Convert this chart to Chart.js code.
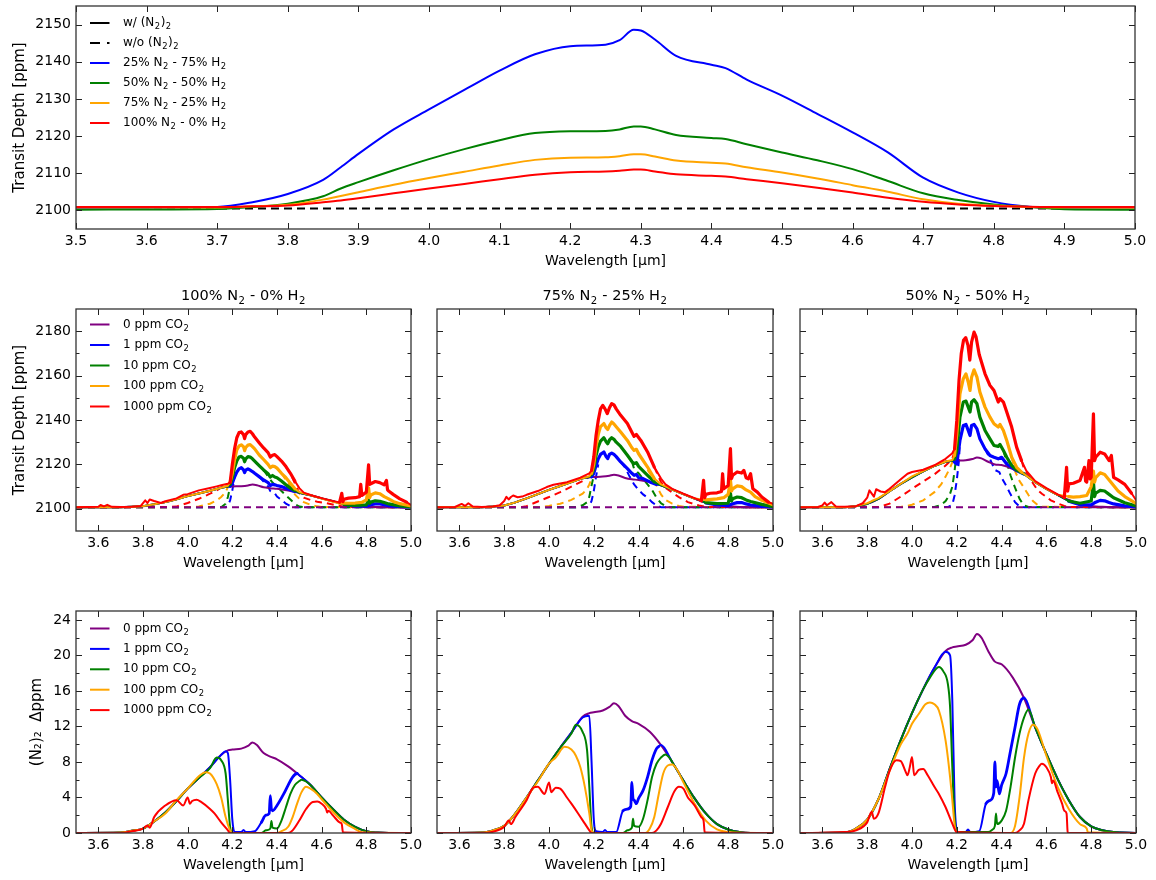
<!DOCTYPE html>
<html><head><meta charset="utf-8">
<script src="https://cdn.jsdelivr.net/npm/chart.js@4.4.0/dist/chart.umd.min.js"></script>
<style>
html,body{margin:0;padding:0;background:#fff;}
#wrap{position:relative;width:1156px;height:880px;overflow:hidden;background:#fff;}
canvas{position:absolute;}
</style></head><body><div id="wrap"></div>
<script>
// ---------------- DATA ----------------
const TOP_X_TICKS = [3.5,3.6,3.7,3.8,3.9,4.0,4.1,4.2,4.3,4.4,4.5,4.6,4.7,4.8,4.9,5.0];
const TOP_Y_TICKS = [2100,2110,2120,2130,2140,2150];
const SUB_X_TICKS = [3.6,3.8,4.0,4.2,4.4,4.6,4.8,5.0];
const MID_Y_TICKS = [2100,2120,2140,2160,2180];
const MID_Y_MINOR = [2110,2130,2150,2170];
const BOT_Y_TICKS = [0,4,8,12,16,20,24];
const BOT_Y_MINOR = [2,6,10,14,18,22];

const TOP_LEGEND = ['w/ (N_2)_2','w/o (N_2)_2','25% N_2 - 75% H_2','50% N_2 - 50% H_2','75% N_2 - 25% H_2','100% N_2 - 0% H_2'];
const CO2_LEGEND = ['0 ppm CO_2','1 ppm CO_2','10 ppm CO_2','100 ppm CO_2','1000 ppm CO_2'];
const PANEL_TITLES = ['100% N_2 - 0% H_2','75% N_2 - 25% H_2','50% N_2 - 50% H_2'];

// top panel
const TOP_WL = [3.50,3.70,3.75,3.80,3.85,3.875,3.90,3.95,4.00,4.05,4.10,4.15,4.20,4.25,4.27,4.29,4.30,4.32,4.35,4.40,4.42,4.45,4.50,4.55,4.60,4.65,4.70,4.75,4.80,4.85,4.90,5.00];
const TOP_25N2 = [2100.6,2100.9,2102.2,2104.4,2108.2,2111.6,2115.2,2121.8,2127.2,2132.4,2137.6,2142.0,2144.2,2144.6,2145.8,2148.6,2148.4,2146.0,2141.6,2139.2,2138.3,2135.2,2130.9,2126.0,2121.0,2115.6,2108.8,2104.8,2102.3,2101.0,2100.6,2100.5];
const TOP_50N2 = [2100.2,2100.4,2100.9,2101.8,2103.8,2105.9,2107.6,2110.8,2113.8,2116.5,2118.9,2120.8,2121.3,2121.4,2121.8,2122.6,2122.6,2121.8,2120.3,2119.5,2119.2,2117.8,2115.6,2113.5,2111.1,2107.9,2104.6,2102.8,2101.6,2100.9,2100.3,2100.2];
const TOP_75N2 = [2100.8,2100.8,2101.1,2101.5,2102.9,2103.9,2104.9,2106.9,2108.7,2110.4,2112.1,2113.6,2114.2,2114.3,2114.6,2115.1,2115.1,2114.5,2113.4,2112.8,2112.6,2111.6,2110.2,2108.6,2106.8,2105.0,2103.0,2101.8,2101.3,2100.9,2100.8,2100.7];
const TOP_100N2 = [2100.9,2100.9,2101.1,2101.3,2102.2,2102.7,2103.3,2104.6,2105.9,2107.1,2108.4,2109.6,2110.3,2110.5,2110.7,2111.0,2111.0,2110.5,2109.7,2109.3,2109.1,2108.4,2107.3,2106.1,2104.8,2103.4,2102.3,2101.6,2101.2,2101.0,2100.9,2100.9];
const TOP_NO_N2 = [[3.50,2100.5],[5.00,2100.5]];

// middle panels: transit depth [ppm], solid = with (N2)2, dashed = without
const MID_BASE = [[3.50,2100.7],[5.00,2100.7]];

const MID_A_PURPLE = [[3.50,2100.7],[3.70,2100.75],[3.75,2100.95],[3.80,2101.2],[3.85,2102.0],[3.90,2103.0],[3.95,2104.3],[4.00,2105.7],[4.05,2106.9],[4.10,2108.1],[4.15,2109.5],[4.18,2110.0],[4.20,2110.1],[4.24,2110.2],[4.27,2110.5],[4.29,2110.9],[4.31,2110.6],[4.34,2109.7],[4.37,2109.3],[4.40,2109.0],[4.45,2108.2],[4.50,2107.2],[4.55,2106.1],[4.60,2104.7],[4.65,2103.4],[4.70,2102.2],[4.75,2101.4],[4.80,2100.9],[4.85,2100.75],[4.90,2100.7],[5.00,2100.7]];
const MID_A_BLUE = [[3.50,2100.7],[3.70,2100.75],[3.75,2100.95],[3.80,2101.2],[3.85,2102.0],[3.90,2103.0],[3.95,2104.3],[4.00,2105.7],[4.05,2106.9],[4.10,2108.1],[4.15,2109.5],[4.18,2110.0],[4.19,2110.2],[4.20,2111.5],[4.21,2114.3],[4.22,2116.5],[4.23,2118.0],[4.24,2118.5],[4.25,2117.5],[4.255,2116.3],[4.26,2117.4],[4.27,2118.0],[4.28,2117.4],[4.29,2116.8],[4.30,2116.0],[4.32,2114.5],[4.34,2113.0],[4.36,2111.8],[4.37,2110.5],[4.38,2111.0],[4.39,2110.8],[4.40,2110.5],[4.42,2110.0],[4.44,2109.3],[4.46,2108.6],[4.48,2107.8],[4.50,2107.2],[4.55,2106.1],[4.60,2104.7],[4.65,2103.4],[4.70,2102.0],[4.75,2101.3],[4.80,2101.2],[4.82,2101.8],[4.84,2102.2],[4.86,2102.2],[4.88,2101.8],[4.90,2101.4],[4.95,2101.0],[5.00,2100.8]];
const MID_A_GREEN = [[3.50,2100.7],[3.70,2100.75],[3.75,2100.95],[3.80,2101.2],[3.85,2102.0],[3.90,2103.0],[3.95,2104.3],[4.00,2105.7],[4.05,2106.9],[4.10,2108.1],[4.15,2109.5],[4.18,2110.0],[4.19,2111.0],[4.20,2114.0],[4.21,2118.5],[4.22,2121.5],[4.23,2123.3],[4.24,2123.6],[4.25,2122.8],[4.255,2121.2],[4.26,2122.5],[4.27,2123.5],[4.28,2123.3],[4.29,2122.5],[4.30,2121.5],[4.32,2119.5],[4.34,2117.5],[4.36,2115.8],[4.37,2114.3],[4.38,2115.0],[4.39,2114.3],[4.40,2114.0],[4.42,2112.5],[4.44,2110.8],[4.46,2109.3],[4.48,2108.2],[4.50,2107.2],[4.55,2106.1],[4.60,2104.7],[4.65,2103.4],[4.70,2102.0],[4.75,2101.5],[4.80,2101.8],[4.81,2104.0],[4.815,2102.5],[4.82,2103.0],[4.84,2103.6],[4.86,2103.4],[4.88,2102.8],[4.90,2102.2],[4.95,2101.3],[5.00,2100.9]];
const MID_A_ORANGE = [[3.50,2100.7],[3.70,2100.75],[3.75,2100.95],[3.80,2101.2],[3.85,2102.0],[3.90,2103.0],[3.95,2104.3],[4.00,2105.7],[4.05,2106.9],[4.10,2108.1],[4.15,2109.5],[4.18,2110.4],[4.19,2112.0],[4.20,2116.0],[4.21,2122.0],[4.22,2126.5],[4.23,2128.3],[4.24,2128.8],[4.25,2128.0],[4.255,2126.2],[4.26,2127.6],[4.27,2128.7],[4.28,2128.9],[4.29,2128.0],[4.30,2127.0],[4.32,2124.3],[4.34,2122.2],[4.36,2120.0],[4.37,2118.5],[4.38,2119.2],[4.39,2119.0],[4.40,2118.3],[4.42,2116.0],[4.44,2114.0],[4.46,2111.5],[4.48,2109.0],[4.50,2107.6],[4.55,2106.1],[4.60,2104.6],[4.65,2103.2],[4.68,2102.5],[4.70,2102.6],[4.72,2102.5],[4.75,2102.6],[4.78,2102.9],[4.80,2104.0],[4.81,2109.5],[4.815,2105.0],[4.82,2106.2],[4.84,2107.2],[4.86,2106.8],[4.88,2105.5],[4.90,2104.5],[4.92,2103.3],[4.95,2102.3],[5.00,2101.3]];
const MID_A_RED = [[3.50,2100.7],[3.60,2100.9],[3.61,2101.7],[3.625,2101.1],[3.64,2101.8],[3.66,2100.9],[3.70,2100.8],[3.75,2100.95],[3.79,2101.3],[3.81,2103.8],[3.82,2102.6],[3.83,2104.2],[3.85,2103.5],[3.88,2102.6],[3.90,2103.4],[3.95,2104.7],[3.98,2106.3],[4.00,2106.6],[4.05,2108.3],[4.10,2109.4],[4.13,2110.1],[4.15,2110.6],[4.18,2111.3],[4.19,2111.8],[4.20,2120.0],[4.21,2127.0],[4.22,2132.0],[4.23,2134.3],[4.24,2134.6],[4.25,2133.4],[4.255,2131.6],[4.26,2133.4],[4.27,2134.6],[4.28,2134.9],[4.29,2133.8],[4.30,2132.3],[4.32,2129.8],[4.34,2127.4],[4.36,2125.3],[4.37,2123.3],[4.38,2124.1],[4.39,2124.4],[4.40,2123.5],[4.42,2121.5],[4.44,2119.0],[4.46,2116.0],[4.48,2112.5],[4.50,2109.3],[4.52,2107.3],[4.55,2106.2],[4.58,2105.3],[4.60,2104.8],[4.65,2103.5],[4.68,2102.9],[4.69,2107.0],[4.695,2103.2],[4.70,2104.3],[4.72,2104.8],[4.75,2105.0],[4.77,2105.5],[4.775,2111.0],[4.78,2106.0],[4.80,2107.5],[4.81,2119.8],[4.815,2111.0],[4.82,2111.3],[4.84,2112.3],[4.86,2111.8],[4.88,2110.8],[4.89,2112.8],[4.895,2108.5],[4.90,2108.0],[4.92,2106.5],[4.95,2104.5],[4.98,2103.0],[5.00,2101.8]];
const MID_A_BLUE_D = [[3.50,2100.7],[4.17,2100.7],[4.18,2101.5],[4.19,2103.8],[4.20,2108.3],[4.21,2114.3],[4.215,null],[4.32,2114.5],[4.34,2112.3],[4.36,2110.0],[4.37,2108.0],[4.38,2107.3],[4.39,2107.0],[4.40,2105.5],[4.42,2104.0],[4.44,2102.3],[4.46,2101.2],[4.48,2100.7],[5.00,2100.7]];
const MID_A_GREEN_D = [[3.50,2100.7],[4.15,2100.7],[4.17,2102.3],[4.18,2105.3],[4.19,2109.8],[4.20,null],[4.34,2117.5],[4.36,2114.5],[4.38,2111.8],[4.40,2110.0],[4.42,2108.0],[4.44,2106.0],[4.46,2104.2],[4.48,2102.2],[4.50,2101.0],[4.52,2100.7],[5.00,2100.7]];
const MID_A_ORANGE_D = [[3.50,2100.7],[4.00,2100.7],[4.05,2101.0],[4.10,2102.3],[4.13,2103.8],[4.15,2105.3],[4.17,2107.5],[4.18,2109.8],[4.19,2112.0],[4.20,null],[4.42,2116.0],[4.44,2113.0],[4.46,2110.0],[4.48,2106.5],[4.50,2104.5],[4.52,2103.0],[4.55,2101.8],[4.58,2101.1],[4.60,2100.8],[5.00,2100.7]];
const MID_A_RED_D = [[3.50,2100.7],[3.90,2100.8],[3.95,2101.0],[4.00,2102.6],[4.05,2104.5],[4.10,2106.8],[4.13,2108.3],[4.15,2109.5],[4.17,2110.5],[4.19,2111.8],[4.20,null],[4.44,2119.0],[4.46,2116.0],[4.48,2111.5],[4.50,2107.0],[4.52,2105.0],[4.55,2104.0],[4.58,2103.2],[4.62,2102.6],[4.66,2101.7],[4.70,2100.9],[5.00,2100.7]];

const MID_B_PURPLE = [[3.50,2100.7],[3.70,2100.75],[3.75,2101.0],[3.80,2101.5],[3.85,2102.9],[3.90,2104.7],[3.95,2106.6],[4.00,2108.5],[4.05,2110.3],[4.10,2112.0],[4.15,2113.8],[4.18,2114.2],[4.20,2114.3],[4.24,2114.5],[4.27,2114.9],[4.29,2115.3],[4.31,2115.0],[4.34,2113.9],[4.37,2113.3],[4.40,2113.0],[4.45,2112.1],[4.50,2110.6],[4.55,2108.7],[4.60,2106.6],[4.65,2104.6],[4.70,2102.9],[4.75,2101.7],[4.80,2101.1],[4.85,2100.8],[4.90,2100.7],[5.00,2100.7]];
const MID_B_BLUE = [[3.50,2100.7],[3.70,2100.75],[3.75,2101.0],[3.80,2101.5],[3.85,2102.9],[3.90,2104.7],[3.95,2106.6],[4.00,2108.5],[4.05,2110.3],[4.10,2112.0],[4.15,2113.8],[4.18,2114.2],[4.19,2114.4],[4.20,2116.0],[4.21,2119.5],[4.22,2122.5],[4.23,2124.5],[4.245,2125.6],[4.255,2123.5],[4.262,2122.6],[4.27,2124.5],[4.28,2125.1],[4.29,2124.5],[4.30,2123.5],[4.32,2121.1],[4.35,2118.1],[4.37,2116.0],[4.38,2115.1],[4.39,2115.5],[4.40,2114.0],[4.42,2113.6],[4.45,2112.1],[4.48,2111.0],[4.50,2110.6],[4.55,2108.7],[4.60,2106.6],[4.65,2104.6],[4.70,2102.7],[4.75,2101.8],[4.80,2101.5],[4.82,2102.3],[4.84,2102.8],[4.86,2102.8],[4.88,2102.2],[4.90,2101.7],[4.95,2101.1],[5.00,2100.8]];
const MID_B_GREEN = [[3.50,2100.7],[3.70,2100.75],[3.75,2101.0],[3.80,2101.5],[3.85,2102.9],[3.90,2104.7],[3.95,2106.6],[4.00,2108.5],[4.05,2110.3],[4.10,2112.0],[4.15,2113.8],[4.18,2114.3],[4.19,2115.5],[4.20,2118.0],[4.21,2124.0],[4.22,2128.0],[4.23,2130.5],[4.245,2132.0],[4.255,2130.2],[4.262,2129.3],[4.27,2131.0],[4.28,2132.0],[4.29,2131.3],[4.30,2130.0],[4.32,2128.1],[4.35,2124.1],[4.37,2121.3],[4.38,2120.3],[4.39,2120.8],[4.40,2119.1],[4.44,2115.1],[4.47,2112.1],[4.49,2111.0],[4.50,2110.6],[4.55,2108.7],[4.60,2106.6],[4.65,2104.6],[4.70,2102.8],[4.75,2102.3],[4.80,2102.5],[4.81,2107.0],[4.815,2103.5],[4.82,2104.5],[4.84,2105.3],[4.86,2105.0],[4.88,2104.0],[4.90,2103.3],[4.95,2102.0],[5.00,2101.0]];
const MID_B_ORANGE = [[3.50,2100.7],[3.70,2100.75],[3.75,2101.0],[3.80,2101.5],[3.85,2102.9],[3.90,2104.7],[3.95,2106.6],[4.00,2108.5],[4.05,2110.3],[4.10,2112.0],[4.15,2113.8],[4.18,2114.6],[4.19,2116.0],[4.20,2120.0],[4.21,2128.0],[4.22,2133.5],[4.23,2137.0],[4.245,2138.4],[4.255,2136.5],[4.262,2135.7],[4.27,2137.5],[4.28,2139.1],[4.29,2138.2],[4.30,2137.0],[4.32,2134.6],[4.35,2130.8],[4.37,2127.5],[4.38,2126.3],[4.39,2126.8],[4.40,2124.8],[4.44,2118.8],[4.47,2113.6],[4.50,2111.0],[4.55,2108.7],[4.60,2106.6],[4.65,2104.6],[4.70,2104.0],[4.75,2104.5],[4.78,2105.0],[4.80,2106.5],[4.81,2113.0],[4.815,2108.0],[4.82,2109.0],[4.84,2110.3],[4.86,2110.0],[4.88,2108.5],[4.90,2107.5],[4.92,2105.5],[4.95,2103.8],[5.00,2101.8]];
const MID_B_RED = [[3.50,2100.7],[3.58,2100.8],[3.61,2102.2],[3.625,2101.3],[3.64,2102.5],[3.66,2101.0],[3.70,2100.8],[3.75,2101.0],[3.78,2101.6],[3.80,2103.5],[3.81,2105.4],[3.82,2104.2],[3.83,2105.3],[3.84,2106.0],[3.86,2105.2],[3.88,2105.5],[3.90,2106.3],[3.95,2108.0],[3.99,2109.8],[4.02,2110.8],[4.08,2112.0],[4.14,2114.0],[4.18,2116.0],[4.19,2117.3],[4.20,2123.3],[4.21,2133.0],[4.22,2139.9],[4.23,2145.0],[4.24,2146.6],[4.25,2145.0],[4.26,2142.9],[4.27,2145.5],[4.28,2147.4],[4.29,2146.8],[4.30,2145.0],[4.32,2142.1],[4.35,2138.4],[4.37,2134.5],[4.38,2132.6],[4.39,2133.5],[4.41,2130.8],[4.44,2125.6],[4.47,2118.8],[4.50,2113.6],[4.52,2111.0],[4.55,2109.0],[4.60,2106.8],[4.65,2104.8],[4.68,2103.5],[4.69,2112.8],[4.695,2105.0],[4.70,2106.5],[4.72,2107.0],[4.75,2107.2],[4.77,2107.8],[4.775,2115.8],[4.78,2109.0],[4.80,2110.5],[4.81,2127.1],[4.815,2113.6],[4.82,2115.1],[4.84,2116.6],[4.86,2116.1],[4.87,2117.3],[4.88,2114.0],[4.89,2113.5],[4.90,2115.8],[4.91,2109.0],[4.93,2107.5],[4.95,2105.3],[4.98,2103.0],[5.00,2102.3]];
const MID_B_BLUE_D = [[3.50,2100.7],[4.17,2100.7],[4.18,2101.5],[4.19,2103.5],[4.20,2108.0],[4.21,2114.5],[4.22,2120.0],[4.225,null],[4.32,2121.1],[4.34,2118.5],[4.36,2114.5],[4.38,2111.0],[4.40,2108.5],[4.42,2106.5],[4.44,2105.0],[4.46,2103.0],[4.48,2101.5],[4.50,2100.7],[5.00,2100.7]];
const MID_B_GREEN_D = [[3.50,2100.7],[4.12,2100.7],[4.15,2101.6],[4.17,2103.0],[4.18,2105.5],[4.19,2110.5],[4.20,2115.0],[4.205,null],[4.37,2121.3],[4.38,2118.0],[4.40,2116.0],[4.42,2113.5],[4.44,2111.0],[4.46,2108.5],[4.48,2105.0],[4.50,2102.5],[4.52,2101.2],[4.54,2100.7],[5.00,2100.7]];
const MID_B_ORANGE_D = [[3.50,2100.7],[3.95,2100.7],[4.00,2101.3],[4.05,2102.3],[4.10,2104.0],[4.15,2106.8],[4.17,2109.0],[4.18,2111.0],[4.19,2113.5],[4.20,2118.0],[4.205,null],[4.44,2117.5],[4.46,2114.5],[4.48,2110.5],[4.50,2106.5],[4.52,2104.0],[4.55,2102.3],[4.58,2101.3],[4.60,2100.9],[5.00,2100.7]];
const MID_B_RED_D = [[3.50,2100.7],[3.88,2100.8],[3.90,2101.2],[3.95,2103.3],[4.00,2105.3],[4.05,2107.5],[4.10,2110.0],[4.15,2112.5],[4.18,2114.5],[4.19,2117.0],[4.195,null],[4.47,2118.8],[4.50,2112.0],[4.52,2109.5],[4.55,2107.3],[4.58,2105.3],[4.62,2103.0],[4.67,2101.5],[4.70,2100.8],[5.00,2100.7]];

const MID_C_PURPLE = [[3.50,2100.7],[3.70,2100.75],[3.75,2101.2],[3.80,2102.2],[3.85,2104.5],[3.90,2107.9],[3.95,2111.2],[4.00,2114.2],[4.05,2116.9],[4.10,2119.3],[4.15,2121.2],[4.18,2121.6],[4.20,2121.7],[4.24,2121.9],[4.27,2122.4],[4.29,2123.1],[4.31,2122.7],[4.34,2121.2],[4.37,2120.0],[4.40,2119.7],[4.45,2117.9],[4.50,2115.7],[4.55,2112.0],[4.60,2109.0],[4.65,2106.3],[4.70,2104.0],[4.75,2102.2],[4.80,2101.3],[4.85,2100.9],[4.90,2100.75],[5.00,2100.7]];
const MID_C_BLUE = [[3.50,2100.7],[3.70,2100.75],[3.75,2101.2],[3.80,2102.2],[3.85,2104.5],[3.90,2107.9],[3.95,2111.2],[4.00,2114.2],[4.05,2116.9],[4.10,2119.3],[4.15,2121.2],[4.18,2121.6],[4.19,2121.0],[4.20,2120.2],[4.214,2130.8],[4.229,2137.5],[4.241,2138.0],[4.251,2135.3],[4.259,2133.0],[4.266,2137.5],[4.277,2138.0],[4.29,2136.0],[4.303,2131.5],[4.326,2127.0],[4.348,2124.0],[4.366,2123.2],[4.385,2122.5],[4.40,2123.2],[4.423,2120.2],[4.445,2118.7],[4.467,2117.2],[4.50,2115.7],[4.55,2112.0],[4.60,2109.0],[4.65,2106.3],[4.70,2103.4],[4.75,2101.8],[4.80,2101.8],[4.82,2103.0],[4.84,2103.8],[4.86,2103.6],[4.88,2102.8],[4.90,2102.2],[4.95,2101.3],[5.00,2100.9]];
const MID_C_GREEN = [[3.50,2100.7],[3.70,2100.75],[3.75,2101.2],[3.80,2102.2],[3.85,2104.5],[3.90,2107.9],[3.95,2111.2],[4.00,2114.2],[4.05,2116.9],[4.10,2119.3],[4.15,2121.2],[4.18,2121.6],[4.19,2122.5],[4.20,2126.3],[4.214,2141.3],[4.229,2148.1],[4.241,2148.5],[4.251,2145.8],[4.259,2143.6],[4.266,2148.1],[4.277,2149.1],[4.29,2147.3],[4.303,2141.3],[4.326,2135.3],[4.348,2131.5],[4.366,2128.5],[4.385,2128.1],[4.393,2129.0],[4.408,2126.3],[4.423,2123.2],[4.445,2119.5],[4.467,2117.5],[4.50,2115.7],[4.55,2112.0],[4.60,2109.0],[4.65,2106.3],[4.70,2103.5],[4.75,2102.5],[4.80,2103.5],[4.81,2112.0],[4.815,2105.5],[4.82,2107.0],[4.84,2108.3],[4.86,2108.0],[4.88,2106.5],[4.90,2105.0],[4.95,2102.7],[5.00,2101.3]];
const MID_C_ORANGE = [[3.50,2100.7],[3.70,2100.75],[3.75,2101.2],[3.80,2102.5],[3.82,2103.5],[3.85,2104.8],[3.90,2108.0],[3.95,2111.3],[4.00,2114.6],[4.05,2117.0],[4.10,2119.4],[4.15,2121.3],[4.18,2122.0],[4.19,2124.0],[4.20,2133.8],[4.214,2151.8],[4.229,2158.6],[4.241,2160.8],[4.251,2157.1],[4.259,2153.3],[4.266,2159.3],[4.277,2162.6],[4.29,2159.3],[4.303,2152.6],[4.326,2145.8],[4.348,2141.3],[4.366,2138.3],[4.385,2136.8],[4.393,2138.0],[4.408,2135.3],[4.423,2130.8],[4.445,2123.2],[4.467,2118.7],[4.489,2116.5],[4.50,2115.7],[4.55,2112.0],[4.60,2109.0],[4.65,2106.3],[4.70,2105.5],[4.72,2105.3],[4.75,2105.5],[4.78,2106.0],[4.80,2110.0],[4.81,2117.0],[4.815,2112.0],[4.82,2114.0],[4.84,2116.2],[4.86,2115.5],[4.88,2113.0],[4.90,2110.5],[4.92,2108.0],[4.95,2105.5],[5.00,2102.5]];
const MID_C_RED = [[3.50,2100.7],[3.58,2100.8],[3.60,2101.5],[3.61,2102.8],[3.62,2101.6],[3.64,2103.0],[3.66,2101.0],[3.70,2100.9],[3.75,2101.2],[3.78,2102.5],[3.80,2105.0],[3.81,2108.3],[3.83,2105.5],[3.84,2108.8],[3.86,2107.8],[3.88,2107.5],[3.90,2109.0],[3.95,2113.3],[3.98,2115.8],[4.00,2116.6],[4.05,2117.6],[4.10,2119.6],[4.15,2122.5],[4.18,2125.0],[4.19,2127.0],[4.20,2139.8],[4.21,2158.0],[4.22,2170.0],[4.23,2175.9],[4.24,2177.1],[4.25,2173.6],[4.258,2167.0],[4.266,2175.1],[4.277,2179.6],[4.286,2177.4],[4.30,2169.5],[4.326,2160.8],[4.348,2155.6],[4.366,2153.3],[4.385,2148.1],[4.393,2149.6],[4.408,2148.1],[4.423,2143.6],[4.445,2136.8],[4.467,2127.8],[4.489,2121.7],[4.51,2117.2],[4.55,2112.5],[4.60,2109.3],[4.65,2106.5],[4.68,2105.0],[4.69,2118.7],[4.695,2108.0],[4.70,2111.2],[4.72,2111.5],[4.75,2112.7],[4.77,2118.7],[4.775,2112.5],[4.78,2112.0],[4.79,2121.7],[4.795,2113.5],[4.80,2114.2],[4.81,2142.8],[4.815,2121.7],[4.82,2123.2],[4.84,2125.5],[4.86,2124.7],[4.88,2121.7],[4.89,2124.0],[4.90,2114.2],[4.92,2113.0],[4.95,2111.0],[4.98,2107.0],[5.00,2104.0]];
const MID_C_BLUE_D = [[3.50,2100.7],[4.16,2100.8],[4.18,2101.8],[4.19,2106.0],[4.20,2113.0],[4.21,2122.0],[4.214,2130.8],[4.22,null],[4.326,2127.0],[4.35,2122.0],[4.37,2117.5],[4.39,2116.5],[4.40,2114.0],[4.42,2110.5],[4.44,2106.5],[4.46,2103.0],[4.48,2101.0],[4.50,2100.7],[5.00,2100.7]];
const MID_C_GREEN_D = [[3.50,2100.7],[4.10,2100.8],[4.13,2101.8],[4.15,2103.5],[4.17,2106.8],[4.18,2110.0],[4.19,2117.0],[4.20,2126.0],[4.205,null],[4.408,2126.3],[4.42,2122.0],[4.44,2115.0],[4.46,2109.5],[4.48,2104.5],[4.50,2101.5],[4.52,2100.8],[5.00,2100.7]];
const MID_C_ORANGE_D = [[3.50,2100.7],[3.95,2100.8],[4.00,2101.8],[4.05,2103.8],[4.10,2107.5],[4.13,2111.0],[4.15,2114.5],[4.17,2118.5],[4.18,2121.0],[4.19,2124.0],[4.195,null],[4.445,2123.2],[4.46,2117.0],[4.48,2112.5],[4.50,2109.5],[4.52,2106.2],[4.54,2103.5],[4.56,2101.8],[4.58,2100.9],[5.00,2100.7]];
const MID_C_RED_D = [[3.50,2100.7],[3.85,2100.8],[3.90,2102.3],[3.95,2105.5],[4.00,2109.0],[4.05,2112.3],[4.10,2115.5],[4.15,2119.5],[4.18,2122.5],[4.19,2126.0],[4.195,null],[4.489,2121.7],[4.50,2118.0],[4.52,2115.0],[4.54,2111.5],[4.56,2108.5],[4.58,2106.8],[4.60,2105.3],[4.62,2103.8],[4.65,2102.4],[4.68,2101.3],[4.70,2100.8],[5.00,2100.7]];

// bottom panels: (N2)2 delta ppm
const BOT_A_PURPLE = [[3.50,0],[3.70,0.05],[3.75,0.25],[3.80,0.5],[3.85,1.3],[3.90,2.3],[3.95,3.6],[4.00,5.0],[4.05,6.2],[4.10,7.4],[4.15,8.8],[4.18,9.3],[4.20,9.4],[4.24,9.5],[4.27,9.8],[4.29,10.2],[4.31,9.9],[4.34,9.0],[4.37,8.6],[4.40,8.3],[4.45,7.5],[4.50,6.5],[4.55,5.4],[4.60,4.0],[4.65,2.7],[4.70,1.5],[4.75,0.7],[4.80,0.2],[4.85,0.05],[4.90,0],[5.00,0]];
const BOT_A_BLUE = [[3.50,0],[3.70,0.05],[3.75,0.25],[3.80,0.5],[3.85,1.3],[3.90,2.3],[3.95,3.6],[4.00,5.0],[4.05,6.2],[4.10,7.4],[4.15,8.8],[4.17,9.2],[4.18,9.0],[4.19,6.0],[4.20,1.5],[4.21,0.1],[4.24,0.1],[4.25,0.35],[4.26,0.1],[4.30,0.2],[4.33,1.2],[4.35,2.0],[4.365,2.2],[4.37,4.2],[4.375,2.7],[4.38,2.5],[4.40,3.1],[4.43,4.4],[4.45,5.4],[4.47,6.3],[4.49,6.7],[4.50,6.5],[4.55,5.4],[4.60,4.0],[4.65,2.7],[4.70,1.5],[4.75,0.7],[4.80,0.2],[4.85,0.05],[4.90,0],[5.00,0]];
const BOT_A_GREEN = [[3.50,0],[3.70,0.05],[3.75,0.25],[3.80,0.5],[3.85,1.3],[3.90,2.3],[3.95,3.6],[4.00,5.0],[4.05,6.2],[4.10,7.3],[4.13,8.5],[4.15,8.2],[4.17,6.7],[4.18,3.7],[4.19,0.7],[4.20,0],[4.33,0],[4.35,0.3],[4.37,0.5],[4.375,1.35],[4.38,0.6],[4.40,0.5],[4.42,1.4],[4.44,2.9],[4.46,4.4],[4.48,5.4],[4.50,5.85],[4.51,6.0],[4.53,5.8],[4.55,5.4],[4.60,4.0],[4.65,2.7],[4.70,1.5],[4.75,0.7],[4.80,0.2],[4.85,0.05],[4.90,0],[5.00,0]];
const BOT_A_ORANGE = [[3.50,0],[3.70,0.05],[3.75,0.25],[3.80,0.5],[3.85,1.3],[3.90,2.2],[3.95,3.7],[4.00,5.0],[4.05,6.4],[4.08,6.85],[4.10,6.7],[4.13,5.5],[4.15,4.0],[4.17,1.8],[4.19,0.3],[4.20,0],[4.40,0],[4.42,0.2],[4.45,0.7],[4.47,1.8],[4.49,3.3],[4.51,4.6],[4.53,5.2],[4.55,5.0],[4.58,4.4],[4.60,3.8],[4.65,2.4],[4.70,1.2],[4.75,0.45],[4.78,0.1],[4.80,0.05],[5.00,0]];
const BOT_A_RED = [[3.50,0],[3.70,0],[3.75,0.2],[3.80,0.5],[3.81,0.7],[3.82,0.85],[3.83,0.6],[3.85,1.8],[3.90,3.1],[3.95,3.7],[3.98,3.1],[4.00,4.0],[4.01,3.3],[4.02,3.6],[4.04,3.75],[4.06,3.5],[4.10,2.7],[4.12,2.2],[4.15,1.2],[4.18,0.3],[4.19,0],[4.45,0],[4.47,0.3],[4.50,1.4],[4.53,2.7],[4.56,3.5],[4.58,3.55],[4.60,3.3],[4.62,2.7],[4.625,2.3],[4.63,2.5],[4.65,2.0],[4.68,1.2],[4.69,1.0],[4.695,0.1],[4.70,0.05],[5.00,0]];

const BOT_B_PURPLE = [[3.50,0],[3.70,0.05],[3.75,0.3],[3.80,0.8],[3.85,2.2],[3.90,4.0],[3.95,5.9],[4.00,7.8],[4.05,9.6],[4.10,11.3],[4.15,13.1],[4.18,13.5],[4.20,13.6],[4.24,13.8],[4.27,14.2],[4.29,14.6],[4.31,14.3],[4.34,13.2],[4.37,12.6],[4.40,12.3],[4.45,11.4],[4.50,9.9],[4.55,8.0],[4.60,5.9],[4.65,3.9],[4.70,2.2],[4.75,1.0],[4.80,0.4],[4.85,0.1],[4.90,0],[5.00,0]];
const BOT_B_BLUE = [[3.50,0],[3.70,0.05],[3.75,0.3],[3.80,0.8],[3.85,2.2],[3.90,4.0],[3.95,5.9],[4.00,7.8],[4.05,9.6],[4.10,11.3],[4.15,13.0],[4.18,13.2],[4.19,8.0],[4.20,1.5],[4.21,0.2],[4.24,0.1],[4.25,0.35],[4.26,0.1],[4.30,0.1],[4.33,2.5],[4.35,2.7],[4.365,3.0],[4.37,5.7],[4.375,3.9],[4.38,3.7],[4.39,3.3],[4.40,3.9],[4.42,4.8],[4.44,6.3],[4.46,8.2],[4.48,9.5],[4.49,9.75],[4.50,9.9],[4.55,8.0],[4.60,5.9],[4.65,3.9],[4.70,2.2],[4.75,1.0],[4.80,0.4],[4.85,0.1],[4.90,0],[5.00,0]];
const BOT_B_GREEN = [[3.50,0],[3.70,0.05],[3.75,0.3],[3.80,0.8],[3.85,2.2],[3.90,4.0],[3.95,5.9],[4.00,7.8],[4.05,9.6],[4.10,11.2],[4.12,12.2],[4.15,11.4],[4.17,9.3],[4.18,5.2],[4.19,0.7],[4.20,0],[4.33,0],[4.35,0.3],[4.37,0.6],[4.375,1.6],[4.38,0.8],[4.40,0.7],[4.42,1.6],[4.44,3.7],[4.46,6.3],[4.48,7.8],[4.50,8.5],[4.52,8.85],[4.54,8.4],[4.55,8.0],[4.60,5.9],[4.65,3.9],[4.70,2.2],[4.75,1.0],[4.80,0.4],[4.85,0.1],[4.90,0],[5.00,0]];
const BOT_B_ORANGE = [[3.50,0],[3.70,0.05],[3.75,0.3],[3.80,0.8],[3.85,2.2],[3.90,4.0],[3.95,5.8],[4.00,7.8],[4.03,8.5],[4.07,9.7],[4.10,9.4],[4.12,8.7],[4.14,7.4],[4.16,5.2],[4.18,2.2],[4.19,0.3],[4.20,0],[4.43,0],[4.45,0.5],[4.47,1.8],[4.49,4.4],[4.51,6.7],[4.53,7.6],[4.55,7.7],[4.57,7.2],[4.60,5.7],[4.65,3.3],[4.70,1.4],[4.75,0.4],[4.80,0.1],[4.85,0.02],[5.00,0]];
const BOT_B_RED = [[3.50,0],[3.70,0],[3.75,0.15],[3.80,0.7],[3.82,1.4],[3.83,1.0],[3.85,1.8],[3.90,3.7],[3.93,5.1],[3.95,5.2],[3.98,4.4],[4.00,5.7],[4.01,4.6],[4.03,5.1],[4.05,5.0],[4.08,4.0],[4.10,3.3],[4.13,2.2],[4.16,1.05],[4.18,0.3],[4.19,0],[4.46,0],[4.48,0.3],[4.50,1.05],[4.53,2.9],[4.56,4.7],[4.58,5.2],[4.60,5.0],[4.62,4.0],[4.63,3.7],[4.65,3.1],[4.68,1.8],[4.69,1.4],[4.695,0.1],[4.70,0.05],[5.00,0]];

const BOT_C_PURPLE = [[3.50,0],[3.70,0.05],[3.75,0.5],[3.80,1.5],[3.85,3.8],[3.90,7.2],[3.95,10.5],[4.00,13.5],[4.05,16.2],[4.10,18.6],[4.15,20.5],[4.18,20.9],[4.20,21.0],[4.24,21.2],[4.27,21.7],[4.29,22.4],[4.31,22.0],[4.34,20.5],[4.37,19.3],[4.40,19.0],[4.45,17.5],[4.50,15.2],[4.55,11.9],[4.60,8.9],[4.65,6.1],[4.70,3.7],[4.75,1.8],[4.80,0.75],[4.85,0.3],[4.90,0.1],[5.00,0]];
const BOT_C_BLUE = [[3.50,0],[3.70,0.05],[3.75,0.5],[3.80,1.5],[3.85,3.8],[3.90,7.2],[3.95,10.5],[4.00,13.5],[4.05,16.2],[4.10,18.6],[4.15,20.4],[4.17,20.0],[4.18,14.9],[4.19,3.7],[4.20,0.3],[4.21,0.05],[4.24,0.1],[4.25,0.4],[4.26,0.1],[4.30,0.2],[4.33,3.3],[4.35,3.7],[4.365,4.5],[4.37,8.0],[4.375,5.2],[4.38,5.9],[4.39,4.4],[4.40,5.4],[4.42,6.7],[4.44,9.3],[4.46,11.9],[4.48,14.5],[4.50,15.2],[4.55,11.9],[4.60,8.9],[4.65,6.1],[4.70,3.7],[4.75,1.8],[4.80,0.75],[4.85,0.3],[4.90,0.1],[5.00,0]];
const BOT_C_GREEN = [[3.50,0],[3.70,0.05],[3.75,0.5],[3.80,1.5],[3.85,3.8],[3.90,7.2],[3.95,10.5],[4.00,13.5],[4.05,16.2],[4.08,17.5],[4.12,18.7],[4.14,18.2],[4.16,16.8],[4.17,14.2],[4.18,7.4],[4.19,1.8],[4.20,0.1],[4.34,0.1],[4.36,0.4],[4.37,0.8],[4.375,2.2],[4.38,1.0],[4.40,1.4],[4.42,2.5],[4.44,5.2],[4.46,8.5],[4.48,11.2],[4.50,13.0],[4.52,13.9],[4.55,11.9],[4.60,8.9],[4.65,6.1],[4.70,3.7],[4.75,1.8],[4.80,0.75],[4.85,0.3],[4.90,0.1],[5.00,0]];
const BOT_C_ORANGE = [[3.50,0],[3.70,0.05],[3.75,0.5],[3.80,1.5],[3.85,3.8],[3.90,7.0],[3.95,10.0],[3.98,11.2],[4.00,12.3],[4.03,13.4],[4.06,14.5],[4.08,14.7],[4.10,14.5],[4.12,13.8],[4.15,10.4],[4.17,6.3],[4.18,3.7],[4.19,1.0],[4.20,0],[4.44,0],[4.46,0.8],[4.48,4.0],[4.50,8.5],[4.52,11.2],[4.54,12.2],[4.56,11.7],[4.60,8.7],[4.65,5.2],[4.70,2.7],[4.75,1.0],[4.78,0.5],[4.785,0.1],[4.80,0.05],[5.00,0]];
const BOT_C_RED = [[3.50,0],[3.70,0.1],[3.75,0.3],[3.80,1.2],[3.82,2.4],[3.83,1.6],[3.85,2.2],[3.88,5.2],[3.90,7.0],[3.93,8.2],[3.95,8.1],[3.97,7.0],[3.98,6.5],[3.99,7.4],[4.00,8.55],[4.01,6.5],[4.03,7.1],[4.05,7.2],[4.07,6.5],[4.10,5.2],[4.12,4.4],[4.15,2.9],[4.18,1.05],[4.20,0.1],[4.46,0],[4.48,0.3],[4.50,1.05],[4.52,3.7],[4.55,6.7],[4.57,7.6],[4.58,7.8],[4.60,7.4],[4.62,6.3],[4.625,5.6],[4.63,5.9],[4.65,4.6],[4.67,3.3],[4.68,2.5],[4.69,2.2],[4.695,0.1],[4.70,0],[5.00,0]];

// ---------------- STYLE / HELPERS ----------------
const FONT = "'DejaVu Sans', 'Liberation Sans', sans-serif";
const COL = {purple:'#800080', blue:'#0000ff', green:'#008000', orange:'#ffa500', red:'#ff0000', black:'#000000'};
const wrap = document.getElementById('wrap');
const pts = arr => arr.map(p => ({x:p[0], y:p[1]}));

function richParts(s){ return s.split(/(_\d)/).filter(t => t.length); }
function richWidth(ctx, s, size){
  let w = 0;
  for (const p of richParts(s)) {
    if (p[0] === '_') { ctx.font = (size*0.7)+'px '+FONT; w += ctx.measureText(p.slice(1)).width + 1; }
    else { ctx.font = size+'px '+FONT; w += ctx.measureText(p).width; }
  }
  return w;
}
function drawRich(ctx, s, x, y, size, align){
  let cx = align === 'center' ? x - richWidth(ctx, s, size)/2 : x;
  ctx.textAlign = 'left'; ctx.textBaseline = 'middle'; ctx.fillStyle = '#000';
  for (const p of richParts(s)) {
    if (p[0] === '_') {
      ctx.font = (size*0.7)+'px '+FONT;
      ctx.fillText(p.slice(1), cx + 0.5, y + size*0.32);
      cx += ctx.measureText(p.slice(1)).width + 1;
    } else {
      ctx.font = size+'px '+FONT;
      ctx.fillText(p, cx, y);
      cx += ctx.measureText(p).width;
    }
  }
}

const decor = {
  id: 'decor',
  afterDatasetsDraw(chart, args, o) {
    const {ctx, chartArea: a} = chart;
    const xs = chart.scales.x, ys = chart.scales.y;
    ctx.save();
    ctx.strokeStyle = '#222'; ctx.lineWidth = 1; ctx.setLineDash([]);
    ctx.beginPath();
    const xt = (vals, len) => (vals||[]).forEach(v => {
      const p = Math.round(xs.getPixelForValue(v)) + 0.5;
      ctx.moveTo(p, a.bottom); ctx.lineTo(p, a.bottom - len);
      ctx.moveTo(p, a.top); ctx.lineTo(p, a.top + len);
    });
    const yt = (vals, len) => (vals||[]).forEach(v => {
      const p = Math.round(ys.getPixelForValue(v)) + 0.5;
      ctx.moveTo(a.left, p); ctx.lineTo(a.left + len, p);
      ctx.moveTo(a.right, p); ctx.lineTo(a.right - len, p);
    });
    xt(o.xMajor, 6); yt(o.yMajor, 6); yt(o.yMinor, 3.5);
    ctx.stroke();
    ctx.lineWidth = 1.3; ctx.strokeStyle = '#333';
    ctx.strokeRect(a.left, a.top, a.right - a.left, a.bottom - a.top);
    if (o.title) drawRich(ctx, o.title, (a.left + a.right)/2, a.top - 12.5, 14.5, 'center');
    if (o.legend) {
      o.legend.items.forEach((it, i) => {
        const y = a.top + o.legend.top + i*o.legend.dy;
        ctx.beginPath(); ctx.lineCap = 'butt';
        ctx.setLineDash(it.dash || []); ctx.lineWidth = 2; ctx.strokeStyle = it.color;
        ctx.moveTo(a.left + 14, y); ctx.lineTo(a.left + 33.5, y); ctx.stroke();
        ctx.setLineDash([]);
        drawRich(ctx, it.label, a.left + 47, y, 12, 'left');
      });
    }
    ctx.restore();
  }
};

function solid(data, color, noisy, wNoisy, smooth) {
  const ds = {data: pts(data), borderColor: color, borderWidth: 2, pointRadius: 0, borderCapStyle: 'round', borderJoinStyle: 'round', fill: false};
  if (smooth) ds.cubicInterpolationMode = 'monotone';
  if (noisy) ds.segment = {borderWidth: c => noisy.some(r => c.p0.parsed.x >= r[0] && c.p0.parsed.x < r[1]) ? (wNoisy||3) : 2};
  return ds;
}
function dashed(data, color, dash) {
  return {data: pts(data), borderColor: color, borderWidth: 2, borderDash: dash || [7,5], pointRadius: 0, borderCapStyle: 'butt', fill: false};
}

function makeChart(cfg) {
  const {x0, x1, y0, y1, L, T, R, B} = cfg;
  const W = x1 - x0 + L + R, H = y1 - y0 + T + B;
  const c = document.createElement('canvas');
  c.width = W; c.height = H;
  c.style.left = (x0 - L) + 'px'; c.style.top = (y0 - T) + 'px';
  c.style.width = W + 'px'; c.style.height = H + 'px';
  wrap.appendChild(c);
  new Chart(c.getContext('2d'), {
    type: 'line',
    data: {datasets: cfg.datasets},
    options: {
      responsive: false, animation: false, devicePixelRatio: 1,
      layout: {padding: {left: 0, top: T, right: R, bottom: 0}},
      plugins: {legend: {display: false}, tooltip: {enabled: false},
        decor: {xMajor: cfg.xTicks, yMajor: cfg.yTicks, yMinor: cfg.yMinor, title: cfg.title, legend: cfg.legend}},
      scales: {
        x: {type: 'linear', min: 3.5, max: 5.0,
          afterBuildTicks: s => { s.ticks = cfg.xTicks.map(v => ({value: v})); },
          afterFit: s => { s.height = B; s.paddingLeft = 0; s.paddingRight = 0; },
          grid: {display: false, drawTicks: false}, border: {display: false},
          ticks: {color: '#000', font: {family: FONT, size: 14}, padding: 4, maxRotation: 0, minRotation: 0, autoSkip: false, callback: v => Number(v).toFixed(1)},
          title: {display: true, text: 'Wavelength [μm]', color: '#000', font: {family: FONT, size: 14}, padding: {top: 0, bottom: 3.6}}},
        y: {type: 'linear', min: cfg.yMin, max: cfg.yMax,
          afterBuildTicks: s => { s.ticks = cfg.yTicks.map(v => ({value: v})); },
          afterFit: s => { s.width = L; s.paddingTop = 0; s.paddingBottom = 0; },
          grid: {display: false, drawTicks: false}, border: {display: false},
          ticks: {display: !!cfg.yLabels, color: '#000', font: {family: FONT, size: 14}, padding: 5, callback: v => String(v)},
          title: {display: !!cfg.yTitle, text: cfg.yTitle || '', color: '#000', font: {family: FONT, size: 15}, padding: {top: cfg.yTitlePad || 0, bottom: 0}}}
      }
    },
    plugins: [decor]
  });
}

// ---------------- BUILD ----------------
const NOISY = [[4.19,4.47],[4.68,4.97]];
const BLUE_NOISY = [[4.32,4.49]];
const co2Legend = [COL.purple, COL.blue, COL.green, COL.orange, COL.red].map((c, i) => ({label: CO2_LEGEND[i], color: c}));

// top panel
makeChart({
  x0: 76, x1: 1135, y0: 6, y1: 229, L: 76, T: 6, R: 21, B: 44,
  yMin: 2095, yMax: 2155, xTicks: TOP_X_TICKS, yTicks: TOP_Y_TICKS,
  yLabels: true, yTitle: 'Transit Depth [ppm]', yTitlePad: 11,
  legend: {top: 17, dy: 20, items: [
    {label: TOP_LEGEND[0], color: COL.black},
    {label: TOP_LEGEND[1], color: COL.black, dash: [10,7]},
    {label: TOP_LEGEND[2], color: COL.blue},
    {label: TOP_LEGEND[3], color: COL.green},
    {label: TOP_LEGEND[4], color: COL.orange},
    {label: TOP_LEGEND[5], color: COL.red}]},
  datasets: [
    solid(TOP_WL.map((x, i) => [x, TOP_100N2[i]]), COL.red, null, 2, true),
    solid(TOP_WL.map((x, i) => [x, TOP_75N2[i]]), COL.orange, null, 2, true),
    solid(TOP_WL.map((x, i) => [x, TOP_50N2[i]]), COL.green, null, 2, true),
    solid(TOP_WL.map((x, i) => [x, TOP_25N2[i]]), COL.blue, null, 2, true),
    dashed(TOP_NO_N2, COL.black, [8,5])
  ]
});

// middle panels
const MID = [
  {x0: 76, x1: 411, L: 76, sets: [MID_A_RED, MID_A_ORANGE, MID_A_GREEN, MID_A_BLUE, MID_A_PURPLE, MID_A_RED_D, MID_A_ORANGE_D, MID_A_GREEN_D, MID_A_BLUE_D]},
  {x0: 437, x1: 773, L: 8, sets: [MID_B_RED, MID_B_ORANGE, MID_B_GREEN, MID_B_BLUE, MID_B_PURPLE, MID_B_RED_D, MID_B_ORANGE_D, MID_B_GREEN_D, MID_B_BLUE_D]},
  {x0: 800, x1: 1136, L: 8, sets: [MID_C_RED, MID_C_ORANGE, MID_C_GREEN, MID_C_BLUE, MID_C_PURPLE, MID_C_RED_D, MID_C_ORANGE_D, MID_C_GREEN_D, MID_C_BLUE_D]}
];
MID.forEach((p, k) => {
  const s = p.sets;
  makeChart({
    x0: p.x0, x1: p.x1, y0: 309, y1: 531, L: p.L, T: 30, R: 20, B: 44,
    yMin: 2090, yMax: 2190, xTicks: SUB_X_TICKS, yTicks: MID_Y_TICKS, yMinor: MID_Y_MINOR,
    yLabels: k === 0, yTitle: k === 0 ? 'Transit Depth [ppm]' : null, yTitlePad: 11,
    title: PANEL_TITLES[k],
    legend: k === 0 ? {top: 15.5, dy: 20.5, items: co2Legend} : null,
    datasets: [
      solid(s[0], COL.red, NOISY, 3.2), solid(s[1], COL.orange, NOISY, 3.2),
      solid(s[2], COL.green, NOISY, 3.2), solid(s[3], COL.blue, NOISY, 3.2),
      solid(s[4], COL.purple, null, 2, true),
      dashed(MID_BASE, COL.purple),
      dashed(s[5], COL.red), dashed(s[6], COL.orange), dashed(s[7], COL.green), dashed(s[8], COL.blue)
    ]
  });
});

// bottom panels
const BOT = [
  {x0: 76, x1: 411, L: 76, sets: [BOT_A_RED, BOT_A_ORANGE, BOT_A_GREEN, BOT_A_BLUE, BOT_A_PURPLE]},
  {x0: 437, x1: 773, L: 8, sets: [BOT_B_RED, BOT_B_ORANGE, BOT_B_GREEN, BOT_B_BLUE, BOT_B_PURPLE]},
  {x0: 800, x1: 1136, L: 8, sets: [BOT_C_RED, BOT_C_ORANGE, BOT_C_GREEN, BOT_C_BLUE, BOT_C_PURPLE]}
];
BOT.forEach((p, k) => {
  const s = p.sets;
  makeChart({
    x0: p.x0, x1: p.x1, y0: 611, y1: 833, L: p.L, T: 10, R: 20, B: 44,
    yMin: 0, yMax: 25, xTicks: SUB_X_TICKS, yTicks: BOT_Y_TICKS, yMinor: BOT_Y_MINOR,
    yLabels: k === 0, yTitle: k === 0 ? '(N₂)₂  Δppm' : null, yTitlePad: 28,
    legend: k === 0 ? {top: 17.5, dy: 20.4, items: co2Legend} : null,
    datasets: [
      solid(s[0], COL.red, null, 2, true), solid(s[1], COL.orange, null, 2, true), solid(s[2], COL.green, null, 2, true),
      solid(s[3], COL.blue, BLUE_NOISY, 2.8, true), solid(s[4], COL.purple, null, 2, true)
    ]
  });
});
</script>
</body></html>
